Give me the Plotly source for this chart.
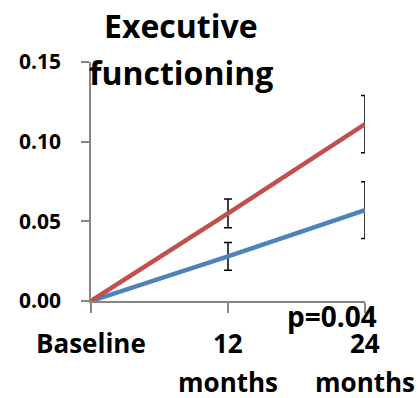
import plotly.graph_objects as go

# ---- data ----
categories = ["Baseline", "12 months", "24 months"]
label_line1 = ["Baseline", "12", "24"]
label_line2 = ["", "months", "months"]
red_values = [0.0, 0.055, 0.111]
red_errors = [0.0, 0.009, 0.018]
blue_values = [0.0, 0.028, 0.057]
blue_errors = [0.0, 0.0087, 0.0178]
y_ticks = [0.0, 0.05, 0.10, 0.15]
title_lines = ["Executive", "functioning"]
p_text = "p=0.04"

RED = "#C0504D"
BLUE = "#4F81BD"
AXIS = "#868686"
FONT = "'Open Sans', Lato, sans-serif"

fig = go.Figure()
for vals, errs, col in [(blue_values, blue_errors, BLUE), (red_values, red_errors, RED)]:
    fig.add_trace(go.Scatter(
        x=list(range(len(categories))), y=vals, mode="lines",
        line=dict(color=col, width=4.5),
        error_y=dict(type="data", array=errs, visible=True, color="black",
                     thickness=1.5, width=4),
        cliponaxis=False, showlegend=False, hoverinfo="skip",
    ))

fig.update_layout(
    width=418, height=398,
    margin=dict(l=91, r=53, t=62, b=97, autoexpand=False),
    paper_bgcolor="white", plot_bgcolor="white",
    font=dict(family=FONT, color="black"),
    showlegend=False,
)
fig.update_xaxes(
    range=[0, 2], tickvals=list(range(len(categories))), showticklabels=False,
    ticks="outside", ticklen=10, tickcolor=AXIS, tickwidth=1.5,
    showline=True, linecolor=AXIS, linewidth=1.5, showgrid=False, zeroline=False,
)
fig.update_yaxes(
    range=[0, 0.15], tickvals=y_ticks, tickformat=".2f",
    ticks="outside", ticklen=8, tickcolor=AXIS, tickwidth=1.5,
    showline=True, linecolor=AXIS, linewidth=1.5, showgrid=False, zeroline=False,
    tickfont=dict(family=FONT, size=21, color="black", weight="bold"),
    ticklabelstandoff=16, automargin=False,
)

h = 239.0
def py(px):
    return (301 - px) / h

for i, (a, b) in enumerate(zip(label_line1, label_line2)):
    fig.add_annotation(x=i, y=py(343), xref="x", yref="paper", text=f"<b>{a}</b>",
                       showarrow=False, yanchor="middle", xanchor="center",
                       font=dict(family=FONT, size=26, color="black"))
    if b:
        fig.add_annotation(x=i, y=py(382), xref="x", yref="paper", text=f"<b>{b}</b>",
                           showarrow=False, yanchor="middle", xanchor="center",
                           font=dict(family=FONT, size=26, color="black"))

fig.add_annotation(x=(379 - 91) / 274.0, y=py(316), xref="paper", yref="paper",
                   text=f"<b>{p_text}</b>", showarrow=False, xanchor="right",
                   yanchor="middle", font=dict(family=FONT, size=28, color="black"))

for t, ypx in zip(title_lines, [25, 72]):
    fig.add_annotation(x=(181 - 91) / 274.0, y=py(ypx), xref="paper", yref="paper",
                       text=f"<b>{t}</b>", showarrow=False, xanchor="center",
                       yanchor="middle", font=dict(family=FONT, size=32, color="black"))

fig.write_html("out.html", config={"displayModeBar": False},
               post_script="document.body.style.margin='0';document.body.style.padding='0';")
